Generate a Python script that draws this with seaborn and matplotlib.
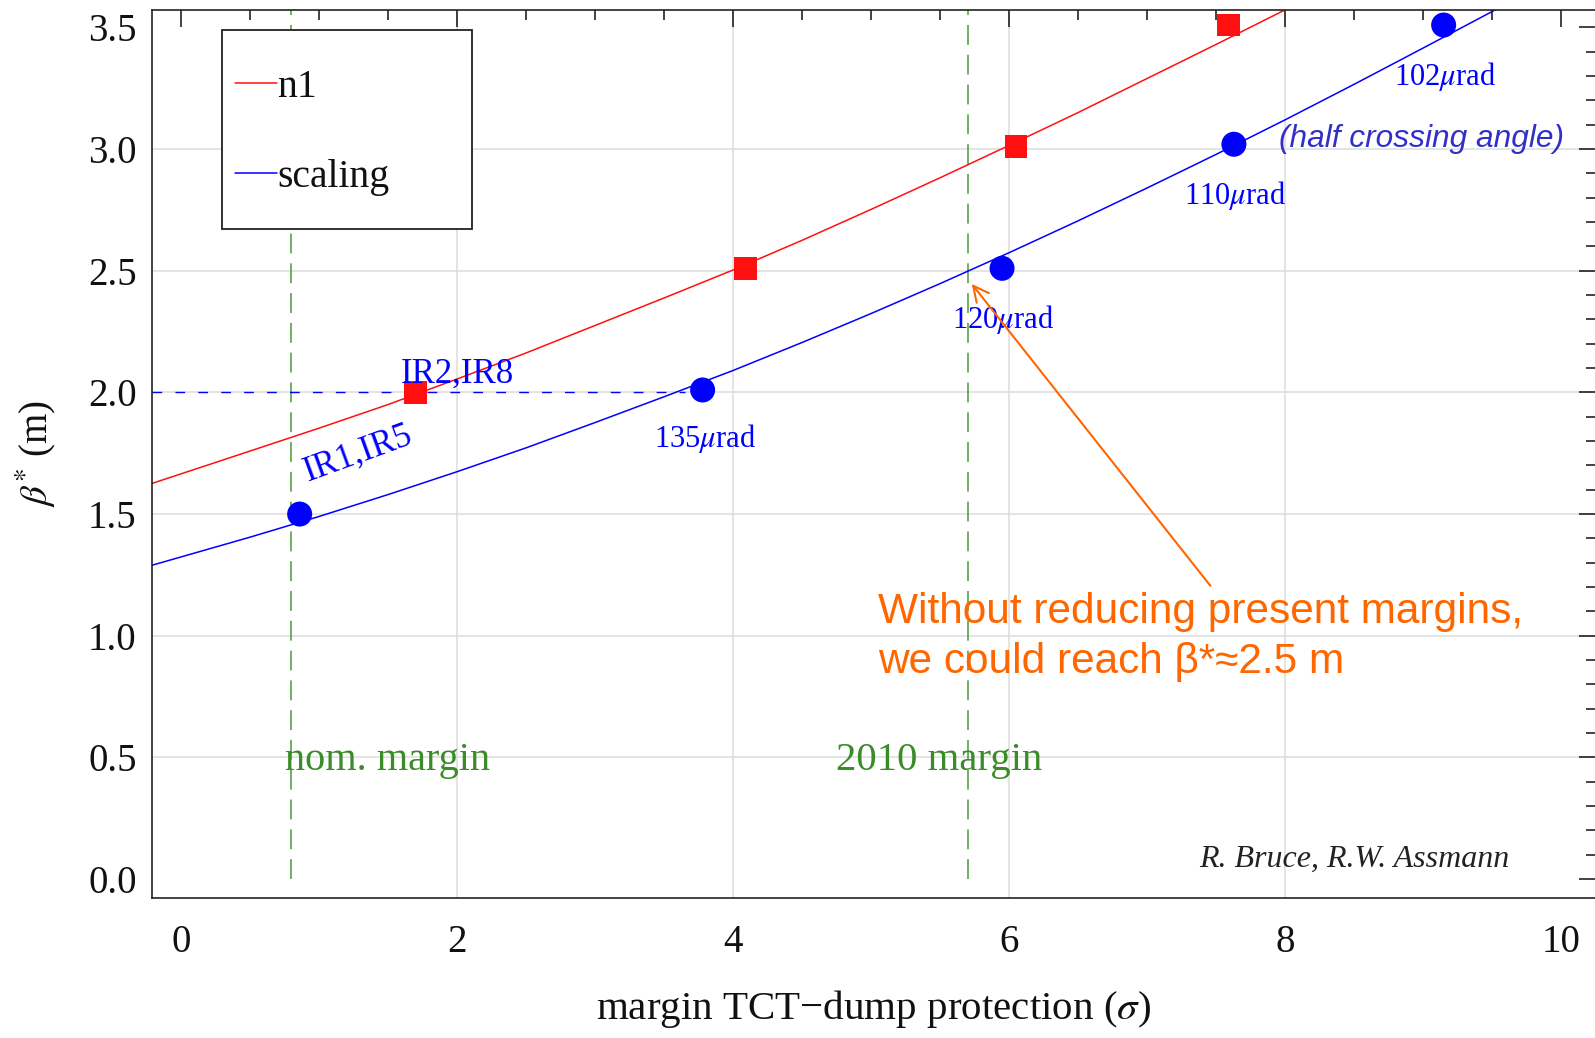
import matplotlib
matplotlib.use("Agg")
import matplotlib.pyplot as plt
from matplotlib.patches import Rectangle
import seaborn as sns
import numpy as np
import pandas as pd

# ---------------- data ----------------
n1_curve_x = [-0.22, 0.5, 1.0, 1.5, 2.0, 2.5, 3.0, 3.5, 4.0, 4.5, 5.0, 5.5, 6.0, 6.5, 7.0, 7.5, 8.0, 8.1]
n1_curve_y = [1.624, 1.759, 1.853, 1.950, 2.055, 2.162, 2.275, 2.388, 2.503, 2.625, 2.752, 2.882,
              3.015, 3.150, 3.290, 3.430, 3.572, 3.60]
scal_curve_x = [-0.22, 0.5, 1.0, 1.5, 2.0, 2.5, 3.0, 3.5, 4.0, 4.5, 5.0, 5.5, 6.0, 6.5, 7.0, 7.5,
                8.0, 8.5, 9.0, 9.5, 9.6]
scal_curve_y = [1.288, 1.405, 1.490, 1.580, 1.674, 1.772, 1.876, 1.982, 2.090, 2.205, 2.324, 2.447,
                2.574, 2.705, 2.840, 2.978, 3.120, 3.266, 3.415, 3.565, 3.597]

n1_points_x = [1.70, 4.09, 6.05, 7.59]
n1_points_y = [2.00, 2.51, 3.01, 3.51]
scal_points_x = [0.86, 3.78, 5.95, 7.63, 9.15]
scal_points_y = [1.50, 2.01, 2.51, 3.02, 3.51]

angle_labels = ["135$\\mu$rad", "120$\\mu$rad", "110$\\mu$rad", "102$\\mu$rad"]
angle_label_x = [3.80, 5.96, 7.64, 9.16]
angle_label_y = [1.81, 2.30, 2.81, 3.30]

ref_beta = 2.0
ref_beta_x = [-0.21, 3.65]
nom_margin_x = 0.80
margin_2010_x = 5.70

x_ticks_major = [0, 2, 4, 6, 8, 10]
y_ticks_major = [0.0, 0.5, 1.0, 1.5, 2.0, 2.5, 3.0, 3.5]
x_grid = [2, 4, 6, 8]
y_grid = [0.5, 1.0, 1.5, 2.0, 2.5, 3.0]

# ---------------- style ----------------
sns.set_theme(style="white")
plt.rcParams['font.family'] = ['Liberation Serif', 'DejaVu Serif']
plt.rcParams['mathtext.fontset'] = 'stix'
plt.rcParams['axes.unicode_minus'] = True

RED = '#ff1010'
BLUE = '#0000ff'
GREEN_LINE = '#4a9a3a'
GREEN_TXT = '#3a8c28'
ORANGE = '#ff6600'

fig = plt.figure(figsize=(15.95, 10.38), dpi=100)
ax = fig.add_axes([152 / 1595, 1 - 898 / 1038, (1596 - 152) / 1595, (898 - 9.7) / 1038])

# grid
for gx in x_grid:
    ax.axvline(gx, color='#dcdcdc', lw=1.1, zorder=0)
for gy in y_grid:
    ax.axhline(gy, color='#dcdcdc', lw=1.1, zorder=0)

# curves
n1_df = pd.DataFrame({'x': n1_curve_x, 'y': n1_curve_y})
sc_df = pd.DataFrame({'x': scal_curve_x, 'y': scal_curve_y})
sns.lineplot(data=n1_df, x='x', y='y', color=RED, lw=1.1, ax=ax, label='n1', estimator=None, zorder=2)
sns.lineplot(data=sc_df, x='x', y='y', color=BLUE, lw=1.1, ax=ax, label='scaling', estimator=None, zorder=2)

# points
sns.scatterplot(x=n1_points_x, y=n1_points_y, marker='s', s=16.3 ** 2, color=RED,
                edgecolor='none', linewidth=0, ax=ax, zorder=3, legend=False)
sns.scatterplot(x=scal_points_x, y=scal_points_y, marker='o', s=18 ** 2, color=BLUE,
                edgecolor='none', linewidth=0, ax=ax, zorder=3, legend=False)

# reference lines
ax.hlines(ref_beta, ref_beta_x[0], ref_beta_x[1], colors=BLUE, lw=1.0,
          linestyles=(0, (7, 9.5)), zorder=2)
for vx in [nom_margin_x, margin_2010_x]:
    ax.vlines(vx, 0.0, 3.7, colors=GREEN_LINE, lw=1.1, linestyles=(0, (13, 6.5)), zorder=1)

# text annotations
ax.text(1.59, 2.04, "IR2,IR8", color=BLUE, fontsize=25, ha='left', va='baseline')
ax.text(0.92, 1.635, "IR1,IR5", color=BLUE, fontsize=25, ha='left', va='baseline',
        rotation=20, rotation_mode='anchor')
for lab, lx, ly in zip(angle_labels, angle_label_x, angle_label_y):
    ax.text(lx, ly, lab, color=BLUE, fontsize=22, ha='center', va='center')
ax.text(7.96, 3.04, "(half crossing angle)", color='#3030c8', fontsize=22.8, style='italic',
        family=['Liberation Sans', 'DejaVu Sans'], ha='left', va='center')
ax.text(0.754, 0.448, "nom. margin", color=GREEN_TXT, fontsize=29, ha='left', va='baseline')
ax.text(4.75, 0.448, "2010 margin", color=GREEN_TXT, fontsize=29.3, ha='left', va='baseline')
ax.text(9.63, 0.05, "R. Bruce, R.W. Assmann", color='#222222', fontsize=23, style='italic',
        ha='right', va='baseline')
ax.text(5.05, 0.995, "Without reducing present margins,\nwe could reach β*≈2.5 m", color=ORANGE,
        fontsize=30.5, family=['Liberation Sans', 'DejaVu Sans'], ha='left', va='center',
        linespacing=1.33)
ax.annotate("", xy=(5.73, 2.446), xytext=(7.46, 1.205),
            arrowprops=dict(arrowstyle='->', color=ORANGE, lw=1.5, shrinkA=0, shrinkB=0,
                            mutation_scale=28))

# axes limits, ticks
ax.set_xlim(-0.21, 10.254)
ax.set_ylim(-0.078, 3.573)
ax.set_xticks(x_ticks_major)
ax.set_xticks(np.arange(-0.0, 10.01, 0.5), minor=True)
ax.set_yticks(y_ticks_major)
ax.set_yticks(np.arange(0.0, 3.56, 0.1), minor=True)
ax.set_xticklabels([str(v) for v in x_ticks_major])
ax.set_yticklabels([f"{v:.1f}" for v in y_ticks_major])
ax.tick_params(which='both', direction='in', top=True, right=True, color='#222222', width=1.2)
ax.tick_params(which='major', length=12, labelsize=28, labelcolor='#111111')
ax.tick_params(which='minor', length=7)
ax.tick_params(axis='x', which='major', pad=19)
ax.tick_params(axis='y', which='major', pad=11)
for sp in ax.spines.values():
    sp.set_visible(True)
    sp.set_color('#222222')
    sp.set_linewidth(1.2)

ax.set_xlabel("margin TCT−dump protection ($\\sigma$)", fontsize=29.5, color='#111111', labelpad=19)
ax.set_ylabel("$\\beta^{*}$ (m)", fontsize=28, color='#111111', labelpad=22)

# legend with a manual frame
leg = ax.legend(loc='upper left', bbox_to_anchor=(0.0576, 0.933), frameon=False, fontsize=28.5,
                handlelength=1.06, handletextpad=0.0, labelspacing=1.33, borderpad=0,
                borderaxespad=0)
leg.set_zorder(6)
for t in leg.get_texts():
    t.set_color('#111111')
ax.add_patch(Rectangle((0.0485, 0.7531), 0.1732, 0.224, transform=ax.transAxes,
                       facecolor='white', edgecolor='#222222', lw=1.3, zorder=5))

fig.savefig("out.png", dpi=100)
